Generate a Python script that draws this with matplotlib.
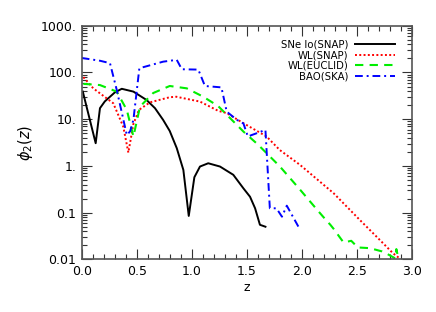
import numpy as np
import matplotlib
matplotlib.use("Agg")
import matplotlib.pyplot as plt
from matplotlib.ticker import FixedLocator, LogLocator, NullFormatter, MultipleLocator

# values
z_sne = [0.01, 0.127, 0.166, 0.21, 0.257, 0.30, 0.364, 0.47, 0.59, 0.666, 0.74, 0.80,
         0.864, 0.924, 0.973, 1.024, 1.075, 1.15, 1.257, 1.378, 1.47, 1.53, 1.576, 1.62, 1.67]
phi_sne = [38.9, 3.06, 17.2, 24.0, 30.2, 37.2, 44.7, 38.9, 25.7, 17.2, 9.66, 5.6,
           2.4, 0.82, 0.085, 0.573, 0.97, 1.14, 0.97, 0.645, 0.331, 0.219, 0.124, 0.055, 0.050]

z_wl_snap = [0.015, 0.105, 0.287, 0.378, 0.424, 0.47, 0.52, 0.62, 0.80, 0.86, 1.075, 1.24,
             1.318, 1.47, 1.68, 1.80, 1.985, 2.29, 2.53, 2.71, 2.83, 2.89]
phi_wl_snap = [79.4, 45.7, 21.9, 6.9, 1.93, 7.9, 15.8, 22.9, 29.5, 30.2, 23.8, 15.1,
               13.5, 8.2, 4.27, 2.19, 1.05, 0.26, 0.069, 0.026, 0.0135, 0.0105]

z_wl_euclid = [0.015, 0.166, 0.318, 0.41, 0.47, 0.53, 0.65, 0.80, 0.955, 1.105, 1.24,
               1.47, 1.605, 1.80, 1.985, 2.14, 2.196, 2.26, 2.29, 2.38, 2.45, 2.51,
               2.62, 2.73, 2.79, 2.85, 2.86, 2.88]
phi_wl_euclid = [57.0, 53.7, 38.9, 15.8, 4.27, 18.6, 36.3, 51.3, 45.7, 30.2, 19.1,
                 5.43, 2.82, 0.98, 0.31, 0.115, 0.081, 0.055, 0.045, 0.023, 0.025, 0.018,
                 0.0174, 0.0148, 0.0126, 0.0105, 0.0166, 0.0100]

z_bao = [0.0, 0.166, 0.257, 0.318, 0.41, 0.44, 0.47, 0.524, 0.74, 0.864, 0.91, 1.06,
         1.12, 1.27, 1.318, 1.41, 1.47, 1.51, 1.59, 1.67, 1.71, 1.77, 1.82, 1.864, 1.97]
phi_bao = [204, 178, 158, 42.7, 4.57, 5.5, 9.7, 123, 170, 186, 117, 115,
           51.3, 47.9, 14.5, 9.7, 8.1, 4.27, 5.0, 5.9, 0.124, 0.124, 0.082, 0.141, 0.050]

labels = ["SNe Io(SNAP)", "WL(SNAP)", "WL(EUCLID)", "BAO(SKA)"]
y_ticks = [0.01, 0.1, 1, 10, 100, 1000]
y_ticklabels = ["0.01", "0.1", "1.", "10.", "100.", "1000."]
x_ticks = [0.0, 0.5, 1.0, 1.5, 2.0, 2.5, 3.0]

fig = plt.figure(figsize=(4.36, 3.12), dpi=100)
ax = fig.add_axes([0.1874, 0.1686, 0.757, 0.749])

ax.plot(z_sne, phi_sne, color="black", lw=1.4, ls="-", label=labels[0])
ax.plot(z_wl_snap, phi_wl_snap, color="red", lw=1.4, ls=(0, (1, 1.2)), label=labels[1])
ax.plot(z_wl_euclid, phi_wl_euclid, color="#00ee00", lw=1.5, ls=(0, (4, 3)), label=labels[2])
ax.plot(z_bao, phi_bao, color="blue", lw=1.4, ls=(0, (4, 2, 1, 2)), label=labels[3])

ax.set_yscale("log")
ax.set_xlim(0, 3.0)
ax.set_ylim(0.01, 1000)

ax.yaxis.set_major_locator(FixedLocator(y_ticks))
ax.set_yticklabels(y_ticklabels)
ax.yaxis.set_minor_locator(LogLocator(base=10, subs=np.arange(2, 10)))
ax.yaxis.set_minor_formatter(NullFormatter())
ax.set_xticks(x_ticks)
ax.set_xticklabels([f"{v:.1f}" for v in x_ticks])
ax.xaxis.set_minor_locator(MultipleLocator(0.1))

ax.tick_params(which="both", direction="in", top=True, right=True, colors="#333333",
               labelcolor="black", labelsize=9, width=0.8)
ax.tick_params(which="major", length=7, pad=4)
ax.tick_params(which="minor", length=3.5)
for sp in ax.spines.values():
    sp.set_color("#555555")
    sp.set_linewidth(1.2)

ax.set_xlabel("z", fontsize=9, labelpad=2)
ax.set_ylabel(r"$\phi_2(z)$", fontsize=10.5, labelpad=4)

leg = ax.legend(loc="upper right", bbox_to_anchor=(0.949, 0.94), frameon=False,
                markerfirst=False, fontsize=7.3, handlelength=3.9, handletextpad=0.7,
                labelspacing=0.05, borderaxespad=0, borderpad=0)

fig.savefig("out.png", dpi=100)
